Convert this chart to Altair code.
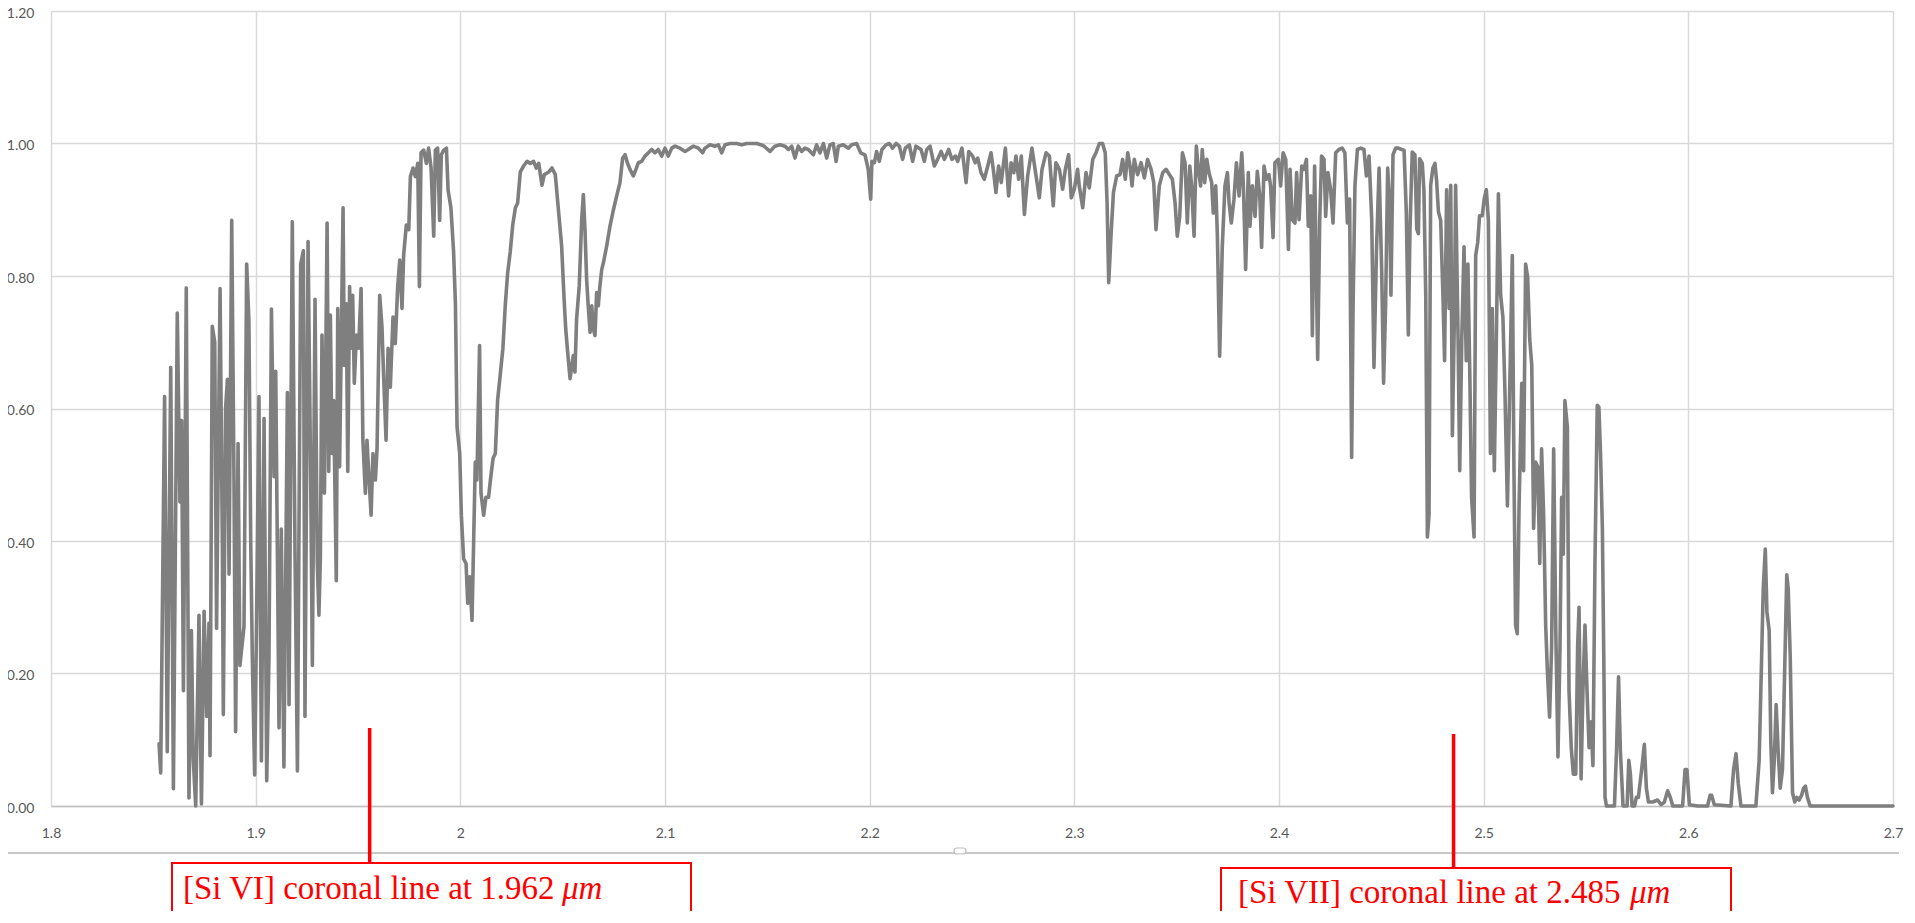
import altair as alt
import pandas as pd

# ---- spectrum (wavelength in micron, normalised transmission) ----
wl_a = [1.8528,1.8536,1.8555,1.8568,1.8585,1.8598,1.8617,1.8630,1.8638,1.8647,
        1.8661,1.8674,1.8686,1.8695,1.8707,1.8723,1.8735,1.8748,1.8761,1.8772,
        1.8777,1.8788,1.8800,1.8809,1.8826,1.8837,1.8842,1.8853,1.8862,1.8870,
        1.8883,1.8894,1.8902,1.8914,1.8923,1.8943,1.8956,1.8967,1.8976,1.8984,
        1.8995,1.9005,1.9016,1.9028,1.9041,1.9054,1.9065,1.9077,1.9090,1.9098,
        1.9114,1.9125,1.9138,1.9155,1.9163,1.9179,1.9192,1.9204,1.9220,1.9233,
        1.9241,1.9256,1.9269,1.9277,1.9290,1.9301,1.9309]
val_a = [0.094,0.050,0.618,0.082,0.662,0.026,0.744,0.459,0.582,0.174,
         0.782,0.012,0.265,0.071,0.0,0.288,0.003,0.294,0.135,0.276,
         0.076,0.724,0.700,0.268,0.781,0.406,0.138,0.600,0.644,0.350,
         0.884,0.494,0.112,0.547,0.212,0.271,0.818,0.732,0.394,0.218,
         0.047,0.294,0.618,0.068,0.585,0.038,0.224,0.750,0.497,0.656,
         0.118,0.418,0.059,0.624,0.153,0.882,0.388,0.053,0.818,0.838,
         0.135,0.852,0.488,0.212,0.765,0.368,0.288]

wl_b = [1.9316,1.9324,1.9336,1.9349,1.9357,1.9365,1.9373,1.9381,1.9394,1.9401,
        1.9410,1.9417,1.9427,1.9433,1.9443,1.9450,1.9459,1.9466,1.9474,1.9482,
        1.9492,1.9503,1.9515,1.9524,1.9536,1.9544,1.9552,1.9564,1.9573,1.9585,
        1.9593,1.9606,1.9617,1.9625,1.9637,1.9647,1.9658,1.9671,1.9682,1.9694,
        1.9704,1.9715,1.9723,1.9736,1.9748,1.9756,1.9769,1.9780,1.9792,1.9800,
        1.9808,1.9821,1.9834,1.9845,1.9857,1.9870,1.9878,1.9889,1.9899,1.9907,
        1.9919,1.9932,1.9940,1.9954,1.9967,1.9976,1.9984,1.9997,2.0005,2.0016,
        2.0028,2.0036,2.0046,2.0057,2.0065,2.0073,2.0081,2.0094,2.0101,2.0114,
        2.0125,2.0138,2.0147,2.0160,2.0171,2.0182,2.0195,2.0208,2.0220,2.0231,
        2.0244,2.0256,2.0269,2.0280,2.0293,2.0309,2.0326,2.0342,2.0358,2.0371,
        2.0383,2.0399,2.0410,2.0432,2.0448,2.0464]
val_b = [0.373,0.711,0.472,0.880,0.505,0.741,0.532,0.612,0.340,0.751,
         0.512,0.671,0.903,0.665,0.758,0.505,0.784,0.691,0.771,0.638,
         0.711,0.691,0.781,0.552,0.472,0.552,0.505,0.439,0.532,0.492,
         0.539,0.771,0.724,0.651,0.552,0.691,0.632,0.738,0.698,0.784,
         0.824,0.751,0.831,0.877,0.870,0.950,0.963,0.950,0.970,0.784,
         0.986,0.990,0.970,0.993,0.963,0.860,0.990,0.993,0.884,0.983,
         0.990,0.993,0.930,0.903,0.837,0.758,0.572,0.532,0.439,0.373,
         0.366,0.306,0.346,0.280,0.399,0.519,0.492,0.695,0.472,0.439,
         0.466,0.466,0.492,0.525,0.532,0.612,0.651,0.691,0.758,0.804,
         0.837,0.877,0.903,0.910,0.957,0.966,0.973,0.970,0.973,0.963,
         0.970,0.937,0.953,0.957,0.963,0.953]

wl_c = [2.0495,2.0507,2.0515,2.0523,2.0536,2.0552,2.0560,2.0568,2.0581,2.0593,
        2.0601,2.0609,2.0617,2.0625,2.0634,2.0642,2.0650,2.0658,2.0666,2.0674,
        2.0682,2.0691,2.0699,2.0715,2.0731,2.0748,2.0764,2.0780,2.0793,2.0805,
        2.0816,2.0829,2.0845,2.0858,2.0870,2.0886,2.0902,2.0919,2.0935,2.0951,
        2.0967,2.0984,2.1000,2.1016,2.1033,2.1049,2.1073,2.1098,2.1114,2.1138,
        2.1163,2.1184,2.1195,2.1220,2.1244,2.1261,2.1277,2.1293,2.1318,2.1350,
        2.1375,2.1399,2.1423,2.1448,2.1480,2.1513,2.1537,2.1562,2.1586,2.1603,
        2.1619,2.1635,2.1651,2.1668,2.1684,2.1700,2.1725,2.1741,2.1757,2.1774,
        2.1790,2.1806,2.1822,2.1836,2.1847,2.1871,2.1896,2.1912,2.1936,2.1956,
        2.1977,2.1993,2.2005]
val_c = [0.845,0.765,0.720,0.690,0.645,0.680,0.655,0.735,0.785,0.885,
         0.923,0.870,0.795,0.755,0.715,0.755,0.720,0.710,0.775,0.755,
         0.785,0.810,0.820,0.845,0.875,0.900,0.921,0.941,0.978,0.983,
         0.971,0.961,0.951,0.961,0.971,0.973,0.981,0.986,0.991,0.986,
         0.991,0.981,0.993,0.981,0.993,0.996,0.993,0.988,0.991,0.996,
         0.993,0.986,0.993,0.998,0.996,0.998,0.986,0.998,1.000,1.000,
         0.998,1.000,1.000,1.000,0.997,0.988,0.996,0.998,0.996,0.991,
         0.996,0.978,0.996,0.988,0.993,0.991,0.983,0.998,0.986,1.000,
         0.978,0.998,1.000,0.973,0.996,0.998,0.993,0.998,1.000,0.986,
         0.983,0.961,0.916]

wl_d = [2.2011,2.2023,2.2034,2.2047,2.2060,2.2080,2.2096,2.2112,2.2129,2.2145,
        2.2161,2.2174,2.2194,2.2210,2.2226,2.2251,2.2267,2.2279,2.2295,2.2316,
        2.2332,2.2349,2.2365,2.2386,2.2402,2.2419,2.2430,2.2451,2.2471,2.2484,
        2.2503,2.2516,2.2528,2.2544,2.2560,2.2577,2.2593,2.2604,2.2617,2.2630,
        2.2643,2.2663,2.2679,2.2691,2.2704,2.2715,2.2728,2.2741,2.2756,2.2772,
        2.2793,2.2813,2.2829,2.2842,2.2862,2.2878,2.2897,2.2910,2.2927,2.2943,
        2.2956,2.2972,2.2985,2.3000,2.3016,2.3024,2.3041,2.3057,2.3073,2.3090,
        2.3106,2.3122,2.3138,2.3151,2.3160,2.3168,2.3179,2.3191,2.3207,2.3223,
        2.3236,2.3249,2.3261,2.3272,2.3282,2.3293,2.3309,2.3326,2.3342,2.3358,
        2.3375,2.3388,2.3399,2.3415,2.3432,2.3448]
val_d = [0.973,0.971,0.988,0.973,0.991,0.998,1.000,0.993,1.000,0.996,
         0.976,0.993,0.998,0.973,0.996,0.991,0.973,0.991,0.996,0.966,
         0.976,0.988,0.976,0.991,0.976,0.981,0.973,0.993,0.941,0.988,
         0.981,0.971,0.978,0.956,0.946,0.966,0.986,0.961,0.926,0.966,
         0.941,0.993,0.921,0.971,0.956,0.981,0.946,0.981,0.893,0.951,
         0.993,0.951,0.918,0.961,0.986,0.981,0.906,0.971,0.961,0.931,
         0.961,0.983,0.918,0.931,0.961,0.936,0.903,0.956,0.933,0.976,
         0.986,1.000,1.000,0.986,0.911,0.790,0.860,0.926,0.951,0.953,
         0.976,0.946,0.986,0.966,0.936,0.976,0.953,0.971,0.948,0.976,
         0.961,0.941,0.870,0.936,0.956,0.961]

wl_e = [2.3479,2.3492,2.3503,2.3515,2.3528,2.3541,2.3552,2.3564,2.3573,2.3585,
        2.3596,2.3606,2.3617,2.3625,2.3637,2.3647,2.3658,2.3671,2.3679,2.3691,
        2.3699,2.3710,2.3723,2.3736,2.3748,2.3756,2.3767,2.3780,2.3792,2.3805,
        2.3818,2.3826,2.3837,2.3850,2.3858,2.3870,2.3883,2.3894,2.3906,2.3915,
        2.3927,2.3938,2.3951,2.3959,2.3971,2.3980,2.3997,2.4008,2.4020,2.4033,
        2.4046,2.4054,2.4065,2.4078,2.4086,2.4098,2.4111,2.4122,2.4134,2.4143,
        2.4155,2.4163,2.4174,2.4189,2.4199,2.4208,2.4220,2.4228,2.4239,2.4252,
        2.4264,2.4277,2.4293,2.4309,2.4322,2.4334,2.4345,2.4355,2.4362,2.4371,
        2.4383,2.4399,2.4415,2.4427,2.4440,2.4453,2.4464,2.4476]
val_e = [0.946,0.911,0.860,0.890,0.986,0.971,0.880,0.966,0.936,0.860,
         0.996,0.961,0.936,0.991,0.941,0.976,0.956,0.941,0.895,0.936,
         0.860,0.679,0.845,0.936,0.956,0.911,0.880,0.916,0.971,0.921,
         0.986,0.936,0.810,0.956,0.875,0.936,0.890,0.958,0.921,0.843,
         0.966,0.946,0.953,0.936,0.858,0.971,0.976,0.936,0.986,0.976,
         0.840,0.961,0.885,0.880,0.956,0.885,0.966,0.961,0.976,0.875,
         0.921,0.710,0.966,0.674,0.885,0.981,0.976,0.890,0.956,0.931,
         0.880,0.986,0.991,0.993,0.986,0.880,0.916,0.526,0.755,0.936,
         0.991,0.993,0.991,0.951,0.981,0.885,0.662,0.835]

wl_f = [2.4489,2.4502,2.4511,2.4521,2.4531,2.4541,2.4547,2.4557,2.4570,2.4583,
        2.4599,2.4611,2.4622,2.4632,2.4640,2.4651,2.4664,2.4673,2.4681,2.4687,
        2.4700,2.4708,2.4717,2.4725,2.4733,2.4741,2.4752,2.4762,2.4770,2.4779,
        2.4790,2.4801,2.4809,2.4819,2.4831,2.4839,2.4847,2.4857,2.4863,2.4875,
        2.4883,2.4893,2.4904,2.4915,2.4923,2.4933,2.4941,2.4953,2.4961,2.4971,
        2.4980,2.4993,2.5003,2.5013,2.5023,2.5033,2.5042,2.5052,2.5062,2.5072,
        2.5083,2.5094,2.5104,2.5116,2.5127,2.5140,2.5148,2.5156,2.5164,2.5173,
        2.5186,2.5195,2.5205,2.5215,2.5225,2.5235,2.5244,2.5254,2.5264,2.5274,
        2.5283,2.5293,2.5303,2.5311,2.5322,2.5332,2.5342,2.5352,2.5363,2.5373,
        2.5381,2.5389,2.5397,2.5409,2.5417,2.5428,2.5438,2.5450,2.5459,2.5466,
        2.5476,2.5485,2.5495,2.5505,2.5515,2.5524,2.5534,2.5544,2.5555]
val_f = [0.963,0.804,0.638,0.758,0.963,0.904,0.771,0.983,0.993,0.993,
         0.991,0.990,0.897,0.711,0.871,0.987,0.983,0.871,0.864,0.977,
         0.970,0.930,0.771,0.406,0.439,0.937,0.963,0.970,0.944,0.897,
         0.884,0.771,0.672,0.930,0.751,0.937,0.559,0.738,0.937,0.705,
         0.506,0.705,0.844,0.672,0.818,0.638,0.466,0.406,0.831,0.851,
         0.891,0.891,0.917,0.930,0.884,0.532,0.751,0.506,0.705,0.924,
         0.771,0.738,0.625,0.453,0.625,0.831,0.506,0.273,0.260,0.453,
         0.638,0.506,0.818,0.798,0.705,0.665,0.419,0.519,0.512,0.366,
         0.539,0.439,0.273,0.207,0.134,0.240,0.539,0.273,0.074,0.240,
         0.466,0.380,0.612,0.572,0.174,0.088,0.048,0.048,0.240,0.300,
         0.041,0.174,0.273,0.174,0.088,0.127,0.061,0.373,0.605]

wl_g = [2.5563,2.5571,2.5580,2.5587,2.5593,2.5600,2.5639,2.5649,2.5659,2.5668,
        2.5681,2.5701,2.5709,2.5717,2.5725,2.5737,2.5746,2.5756,2.5772,2.5785,
        2.5795,2.5805,2.5826,2.5850,2.5867,2.5883,2.5899,2.5912,2.5924,2.5972,
        2.5984,2.5993,2.6005,2.6046,2.6094,2.6106,2.6114,2.6127,2.6208,2.6221,
        2.6233,2.6244,2.6257,2.6330,2.6346,2.6358,2.6366,2.6376,2.6384,2.6395,
        2.6403,2.6411,2.6420,2.6429,2.6439,2.6449,2.6460,2.6472,2.6481,2.6488,
        2.6498,2.6509,2.6520,2.6530,2.6541,2.6553,2.6563,2.6572,2.6582,2.6595,
        2.7000]
val_g = [0.602,0.532,0.420,0.223,0.013,0.0,0.0,0.083,0.195,0.083,
         0.0,0.0,0.069,0.048,0.0,0.0,0.013,0.013,0.055,0.093,
         0.027,0.006,0.006,0.009,0.002,0.006,0.023,0.013,0.0,0.0,
         0.055,0.055,0.002,0.0,0.0,0.016,0.016,0.002,0.0,0.055,
         0.079,0.034,0.0,0.0,0.069,0.223,0.328,0.388,0.293,0.265,
         0.097,0.020,0.069,0.153,0.083,0.027,0.055,0.223,0.349,0.328,
         0.223,0.020,0.006,0.013,0.009,0.016,0.027,0.030,0.013,0.0,
         0.0]

x_ticks = [1.8, 1.9, 2.0, 2.1, 2.2, 2.3, 2.4, 2.5, 2.6, 2.7]
y_ticks = [0.0, 0.2, 0.4, 0.6, 0.8, 1.0, 1.2]

marker_wl = [1.9557, 2.4853]
annot_text = ["[Si VI] coronal line at 1.962", "[Si VII] coronal line at 2.485"]
unit_text = "\u03bcm"

wl = wl_a + wl_b + wl_c + wl_d + wl_e + wl_f + wl_g
val = val_a + val_b + val_c + val_d + val_e + val_f + val_g
assert len(wl) == len(val)
df = pd.DataFrame({"wavelength": wl, "value": val})

GRID = "#d9d9d9"
LABEL = "#595959"
RED = "#ff0000"

xscale = alt.Scale(domain=[1.8, 2.7], nice=False, zero=False)
yscale = alt.Scale(domain=[0, 1.2], nice=False, zero=False)

line = alt.Chart(df).mark_line(
    color="#7f7f7f", strokeWidth=3.6, strokeJoin="round", strokeCap="round"
).encode(
    x=alt.X("wavelength:Q", scale=xscale,
            axis=alt.Axis(values=x_ticks, labelExpr="format(datum.value, '~g')",
                          title=None, grid=True, gridColor=GRID, gridWidth=1.5,
                          domainColor="#bfbfbf", domainWidth=1.5, ticks=False,
                          labelPadding=20, labelFont="Lato", labelFontSize=14,
                          labelColor=LABEL, labelFlush=False, labelOverlap=False)),
    y=alt.Y("value:Q", scale=yscale,
            axis=alt.Axis(values=y_ticks, format=".2f", title=None, grid=True,
                          gridColor=GRID, gridWidth=1.5, domain=False, ticks=False,
                          labelPadding=17, labelFont="Lato", labelFontSize=14,
                          labelOffset=2, labelColor=LABEL, labelOverlap=False)),
)

one = pd.DataFrame({"k": [0]})

separator = alt.Chart(one).mark_rule(color="#c8c8c8", strokeWidth=2).encode(
    x=alt.value(-51), x2=alt.value(1848), y=alt.value(842)
)
handle = alt.Chart(one).mark_rect(
    fill="white", stroke="#bdbdbd", strokeWidth=1.2, cornerRadius=3
).encode(x=alt.value(903), x2=alt.value(915), y=alt.value(837), y2=alt.value(843))

rule1 = alt.Chart(pd.DataFrame({"wavelength": [marker_wl[0]]})).mark_rule(
    color=RED, strokeWidth=3.5
).encode(x="wavelength:Q", y=alt.value(717), y2=alt.value(852))
rule2 = alt.Chart(pd.DataFrame({"wavelength": [marker_wl[1]]})).mark_rule(
    color=RED, strokeWidth=3.5
).encode(x="wavelength:Q", y=alt.value(723), y2=alt.value(857))

box1 = alt.Chart(one).mark_rect(fillOpacity=0, stroke=RED, strokeWidth=2).encode(
    x=alt.value(121), x2=alt.value(640), y=alt.value(852), y2=alt.value(960)
)
box2 = alt.Chart(one).mark_rect(fillOpacity=0, stroke=RED, strokeWidth=2).encode(
    x=alt.value(1170), x2=alt.value(1680), y=alt.value(857), y2=alt.value(960)
)

def label(txt, x, y, italic=False):
    kw = dict(align="left", baseline="alphabetic", font="Liberation Serif",
              fontSize=33, color=RED)
    if italic:
        kw["fontStyle"] = "italic"
    return alt.Chart(pd.DataFrame({"t": [txt]})).mark_text(**kw).encode(
        x=alt.value(x), y=alt.value(y), text="t:N")

t1 = label(annot_text[0], 132, 888)
u1 = label(unit_text, 511, 888, italic=True)
t2 = label(annot_text[1], 1187, 892)
u2 = label(unit_text, 1579, 892, italic=True)

chart = alt.layer(line, separator, handle, rule1, rule2, box1, box2, t1, u1, t2, u2).properties(
    width=1842, height=795,
    autosize=alt.AutoSizeParams(type="none"),
    padding={"left": 43, "top": 3, "right": 14, "bottom": 105},
    background="white",
).configure_view(strokeWidth=0)

chart.save("out.html", embed_options={"renderer": "svg", "actions": False})
